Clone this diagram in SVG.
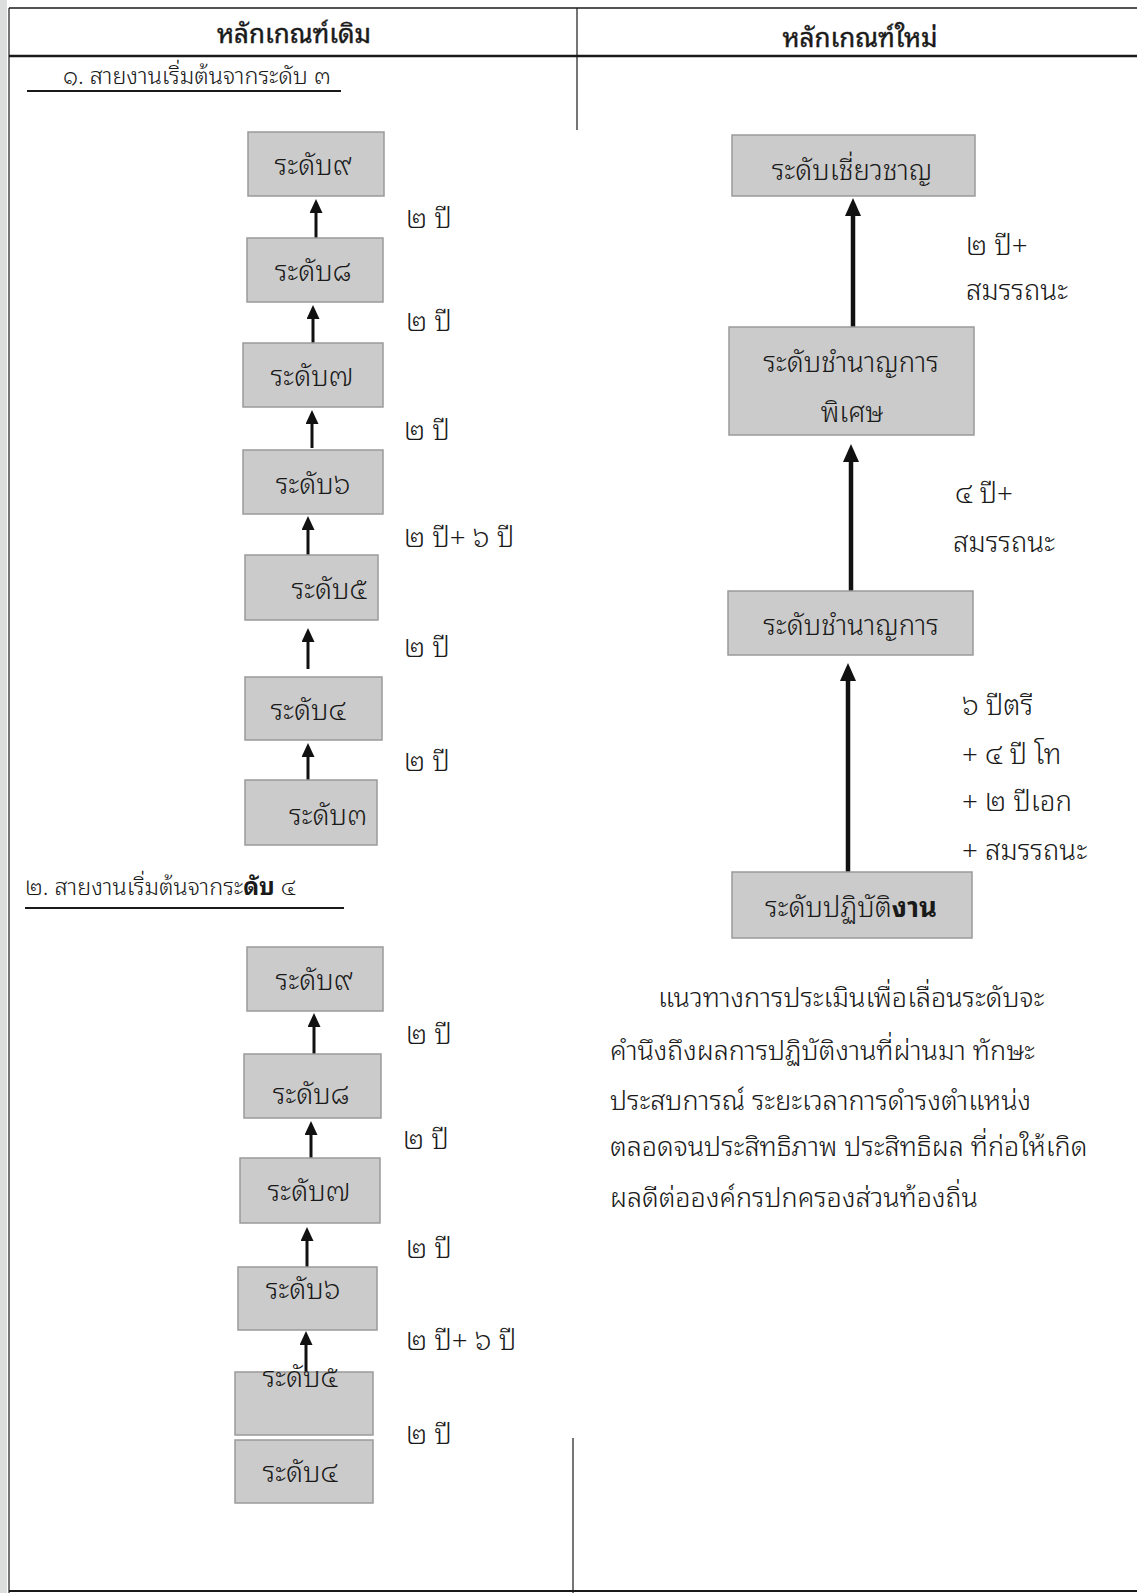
<svg xmlns="http://www.w3.org/2000/svg" width="1137" height="1593" viewBox="0 0 1137 1593">
<style>
text{font-family:"Noto Sans Thai Looped","Loma","Garuda","Norasi","Kinnari","Sarabun","TlwgTypo","Noto Serif Thai","Noto Sans Thai","DejaVu Sans",sans-serif;fill:#1a1a1a;font-weight:300}
.hdr{font-size:26px;text-anchor:middle;font-weight:normal;stroke:#1a1a1a;stroke-width:0.4}
.sec{font-size:23.4px}
.bx{font-size:27.5px;text-anchor:middle}
.lbl{font-size:27.7px}
.par{font-size:27px}
.box{fill:#cbcbcb;stroke:#9a9a9a;stroke-width:1.5}
.rule{stroke:#1a1a1a;fill:none}
.arr{stroke:#111;stroke-width:3;marker-end:url(#ah)}
.arrB{stroke:#111;stroke-width:4.5;marker-end:url(#ahB)}
</style>
<defs>
<marker id="ah" markerUnits="userSpaceOnUse" markerWidth="14" markerHeight="13" viewBox="0 0 14 13" refX="0" refY="6.5" orient="auto"><path d="M0,0 L14,6.5 L0,13 z" fill="#111"/></marker>
<marker id="ahB" markerUnits="userSpaceOnUse" markerWidth="18" markerHeight="16" viewBox="0 0 18 16" refX="0" refY="8" orient="auto"><path d="M0,0 L18,8 L0,16 z" fill="#111"/></marker>
</defs>
<rect width="1137" height="1593" fill="#ffffff"/>
<rect x="0" y="0" width="7" height="1593" fill="#dcdede"/>
<g id="table">
<line class="rule" x1="9" y1="8" x2="1137" y2="8" stroke-width="1.5"/>
<line class="rule" x1="9" y1="56" x2="1137" y2="56" stroke-width="2.5"/>
<line class="rule" x1="9" y1="8" x2="9" y2="1593" stroke-width="1.2" stroke="#777"/>
<line class="rule" x1="577" y1="8" x2="577" y2="130" stroke-width="1.2" stroke="#555"/>
<line class="rule" x1="573" y1="1438" x2="573" y2="1593" stroke-width="1.2" stroke="#555"/>
<line class="rule" x1="9" y1="1591" x2="1137" y2="1591" stroke-width="2" stroke="#4a6a88"/>
<text class="hdr" x="294" y="43">หลักเกณฑ์เดิม</text>
<text class="hdr" x="860" y="47">หลักเกณฑ์ใหม่</text>
</g>
<g id="heading1">
<text class="sec" x="63" y="84">๑. สายงานเริ่มต้นจากระดับ ๓</text>
<line class="rule" x1="27" y1="91" x2="341" y2="91" stroke-width="2"/>
</g>
<g id="heading2">
<text class="sec" x="25" y="895">๒. สายงานเริ่มต้นจากระ<tspan font-weight="bold">ดับ</tspan> ๔</text>
<line class="rule" x1="25" y1="908" x2="344" y2="908" stroke-width="2"/>
</g>
<g id="connectors">
<line class="arr" x1="316" y1="238" x2="316" y2="213"/>
<line class="arr" x1="313" y1="343" x2="313" y2="319"/>
<line class="arr" x1="312" y1="448" x2="312" y2="424"/>
<line class="arr" x1="308" y1="557" x2="308" y2="530"/>
<line class="arr" x1="308" y1="669" x2="308" y2="642"/>
<line class="arr" x1="308" y1="780" x2="308" y2="757"/>
<line class="arr" x1="314" y1="1054" x2="314" y2="1027"/>
<line class="arr" x1="311" y1="1158" x2="311" y2="1135"/>
<line class="arr" x1="307" y1="1267" x2="307" y2="1241"/>
<line class="arr" x1="306" y1="1380" x2="306" y2="1345"/>
<line class="arrB" x1="853" y1="327" x2="853" y2="216"/>
<line class="arrB" x1="851" y1="591" x2="851" y2="462"/>
<line class="arrB" x1="848" y1="872" x2="848" y2="681"/>
</g>
<g id="s1-l9"><rect class="box" x="248" y="132" width="136" height="64"/><text class="bx" x="313" y="175">ระดับ๙</text></g>
<g id="s1-l8"><rect class="box" x="247" y="238" width="136" height="64"/><text class="bx" x="313" y="281">ระดับ๘</text></g>
<g id="s1-l7"><rect class="box" x="243" y="343" width="140" height="64"/><text class="bx" x="312" y="386">ระดับ๗</text></g>
<g id="s1-l6"><rect class="box" x="243" y="450" width="140" height="64"/><text class="bx" x="313" y="494">ระดับ๖</text></g>
<g id="s1-l5"><rect class="box" x="245" y="555" width="133" height="65"/><text class="bx" x="329" y="599">ระดับ๕</text></g>
<g id="s1-l4"><rect class="box" x="245" y="677" width="137" height="63"/><text class="bx" x="308" y="720">ระดับ๔</text></g>
<g id="s1-l3"><rect class="box" x="245" y="780" width="132" height="65"/><text class="bx" x="328" y="825">ระดับ๓</text></g>
<g id="s1-labels">
<text class="lbl" x="406" y="228">๒ ปี</text>
<text class="lbl" x="406" y="331">๒ ปี</text>
<text class="lbl" x="404" y="440">๒ ปี</text>
<text class="lbl" x="404" y="547">๒ ปี+ ๖ ปี</text>
<text class="lbl" x="404" y="657">๒ ปี</text>
<text class="lbl" x="404" y="771">๒ ปี</text>
</g>
<g id="s2-l9"><rect class="box" x="247" y="947" width="136" height="64"/><text class="bx" x="314" y="990">ระดับ๙</text></g>
<g id="s2-l8"><rect class="box" x="244" y="1054" width="137" height="64"/><text class="bx" x="311" y="1104">ระดับ๘</text></g>
<g id="s2-l7"><rect class="box" x="240" y="1158" width="140" height="65"/><text class="bx" x="309" y="1201">ระดับ๗</text></g>
<g id="s2-l6"><rect class="box" x="238" y="1267" width="139" height="63"/><text class="bx" x="303" y="1299">ระดับ๖</text></g>
<g id="s2-l5"><rect class="box" x="235" y="1372" width="138" height="63"/><text class="bx" x="300" y="1387">ระดับ๕</text></g>
<g id="s2-l4"><rect class="box" x="235" y="1440" width="138" height="63"/><text class="bx" x="300" y="1482">ระดับ๔</text></g>
<g id="s2-labels">
<text class="lbl" x="406" y="1044">๒ ปี</text>
<text class="lbl" x="403" y="1149">๒ ปี</text>
<text class="lbl" x="406" y="1258">๒ ปี</text>
<text class="lbl" x="406" y="1350">๒ ปี+ ๖ ปี</text>
<text class="lbl" x="406" y="1444">๒ ปี</text>
</g>
<g id="n-expert"><rect class="box" x="732" y="135" width="243" height="61"/><text class="bx" x="852" y="180">ระดับเชี่ยวชาญ</text></g>
<g id="n-senior"><rect class="box" x="729" y="327" width="245" height="108"/><text class="bx" x="851" y="372">ระดับชำนาญการ</text><text class="bx" x="852" y="422">พิเศษ</text></g>
<g id="n-pro"><rect class="box" x="728" y="591" width="245" height="64"/><text class="bx" x="851" y="635">ระดับชำนาญการ</text></g>
<g id="n-op"><rect class="box" x="732" y="872" width="240" height="66"/><text class="bx" x="851" y="917">ระดับปฏิบัติ<tspan font-weight="bold">งาน</tspan></text></g>
<g id="r-labels">
<text class="lbl" x="966" y="255">๒ ปี+</text>
<text class="lbl" x="966" y="300">สมรรถนะ</text>
<text class="lbl" x="955" y="503">๔ ปี+</text>
<text class="lbl" x="953" y="552">สมรรถนะ</text>
<text class="lbl" x="962" y="715">๖ ปีตรี</text>
<text class="lbl" x="962" y="764">+ ๔ ปี โท</text>
<text class="lbl" x="962" y="811">+ ๒ ปีเอก</text>
<text class="lbl" x="962" y="860">+ สมรรถนะ</text>
</g>
<g id="paragraph">
<text class="par" x="658" y="1007">แนวทางการประเมินเพื่อเลื่อนระดับจะ</text>
<text class="par" x="610" y="1060">คำนึงถึงผลการปฏิบัติงานที่ผ่านมา ทักษะ</text>
<text class="par" x="610" y="1110">ประสบการณ์ ระยะเวลาการดำรงตำแหน่ง</text>
<text class="par" x="610" y="1156">ตลอดจนประสิทธิภาพ ประสิทธิผล ที่ก่อให้เกิด</text>
<text class="par" x="610" y="1207">ผลดีต่อองค์กรปกครองส่วนท้องถิ่น</text>
</g>
</svg>
